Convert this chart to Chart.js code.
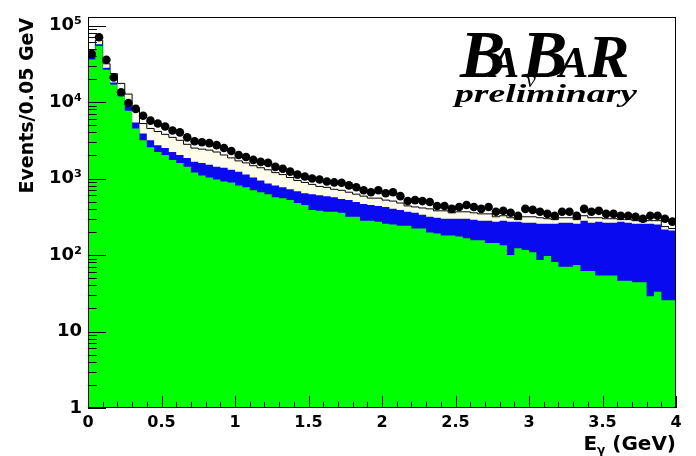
<!DOCTYPE html>
<html><head><meta charset="utf-8">
<script src="https://cdn.jsdelivr.net/npm/chart.js@4.4.1/dist/chart.umd.min.js"></script>
<style>html,body{margin:0;padding:0;background:#fff;}#wrap{width:696px;height:456px;}</style>
</head><body><div id="wrap"><canvas id="c" width="696" height="456"></canvas></div>
<script>
// ---- data, 80 bins of 0.05 GeV from 0 to 4 GeV ----
const binWidth = 0.05;
const nBins = 80;
const binLow = Array.from({length: nBins}, (_, i) => +(i * binWidth).toFixed(2));
const xTickLabels = ['0','0.5','1','1.5','2','2.5','3','3.5','4'];
const yTickLabels = ['1','10','10\u00b2','10\u00b3','10\u2074','10\u2075'];
const yTitle = 'Events/0.05 GeV';

// data points (black dots)
const dataCounts = [42500,70200,35600,20900,13400,9700,8130,6620,5710,5230,
  4780,4250,4010,3450,3070,2980,2900,2730,2500,2290,
  2030,1910,1750,1650,1600,1420,1340,1230,1125,1060,
  1000,970,915,889,880,813,767,701,662,701,
  643,662,588,507,522,507,492,438,438,401,
  425,451,425,401,425,367,378,356,326,401,
  389,367,345,326,367,367,326,401,367,378,
  345,345,326,326,316,298,326,326,298,273];

// cumulative stack tops
const greenTop = [36000,53800,26500,17000,11900,7670,4510,3160,2570,2220,
  2030,1750,1600,1420,1194,1092,1030,970,915,889,
  813,767,701,662,624,571,554,522,478,451,
  389,378,367,367,356,316,316,281,281,273,
  257,250,242,242,222,222,197,191,180,180,
  175,165,156,156,143,143,134,100,123,116,
  109,86,97,81,70,70,74,62,62,54,
  54,54,46,46,44,44,29,33,25.7,25.7];
const blueTop = [40000,57000,28100,18000,12700,8890,5380,3890,3160,2730,
  2500,2220,2030,1860,1650,1600,1510,1425,1383,1300,
  1230,1125,1030,943,863,813,767,723,681,643,
  624,606,588,571,538,522,492,464,451,438,
  425,401,389,367,356,336,316,307,298,298,
  298,298,290,281,281,273,281,273,273,265,
  265,257,257,257,265,265,257,281,265,273,
  265,265,273,265,257,257,257,250,215,209];
const totalMC = [47800,64200,31600,23500,17500,12700,8130,5230,4510,4120,
  3780,3450,3160,2800,2500,2420,2350,2220,2030,1860,
  1700,1600,1470,1383,1300,1194,1125,1030,943,889,
  838,789,767,723,701,662,624,588,554,554,
  522,507,478,438,425,412,401,378,378,356,
  367,367,356,345,345,316,326,307,290,316,
  316,307,298,290,307,307,290,326,307,307,
  298,298,290,290,281,273,281,281,235,222];

function stepPoints(vals) {
  const pts = vals.map((v, i) => ({x: binLow[i], y: v}));
  pts.push({x: binLow[nBins - 1] + binWidth, y: vals[nBins - 1]});
  return pts;
}
const dotPoints = dataCounts.map((v, i) => ({x: binLow[i] + binWidth / 2, y: v}));

const frameAndTicks = {
  id: 'frameAndTicks',
  afterDatasetsDraw(chart) {
    const {ctx, chartArea: a, scales: {x, y}} = chart;
    ctx.save();
    ctx.strokeStyle = '#000';
    ctx.lineWidth = 1;
    ctx.beginPath();
    for (let k = 0; k <= 40; k++) {
      const px = Math.round(x.getPixelForValue(k / 10)) + 0.5;
      const len = (k % 5 === 0) ? 12 : 6;
      ctx.moveTo(px, a.bottom); ctx.lineTo(px, a.bottom - len);
    }
    for (let e = 0; e <= 5; e++) {
      for (let m = 1; m <= 9; m++) {
        const v = m * Math.pow(10, e);
        if (v > y.max) continue;
        const py = Math.round(y.getPixelForValue(v)) + 0.5;
        const len = m === 1 ? 18 : 9;
        ctx.moveTo(a.left, py); ctx.lineTo(a.left + len, py);
      }
    }
    ctx.stroke();
    ctx.strokeRect(Math.round(a.left) + 0.5, Math.round(a.top) + 0.5,
                   Math.round(a.right - a.left) - 1, Math.round(a.bottom - a.top) - 1);
    ctx.restore();
  },
  afterDraw(chart) {
    const {ctx, chartArea: a} = chart;
    ctx.save();
    ctx.fillStyle = '#000';
    // y-axis title
    ctx.save();
    ctx.font = 'bold 19px "DejaVu Sans"';
    ctx.textAlign = 'right';
    ctx.textBaseline = 'middle';
    ctx.translate(28, a.top + 1);
    ctx.rotate(-Math.PI / 2);
    ctx.fillText(yTitle, 0, 0);
    ctx.restore();
    // x-axis title  E_gamma (GeV)
    ctx.textBaseline = 'alphabetic';
    const fBig = 'bold 20px "DejaVu Sans"';
    const fSub = 'bold 12px "DejaVu Sans"';
    ctx.font = fBig; const wE = ctx.measureText('E').width; const wG = ctx.measureText(' (GeV)').width;
    ctx.font = fSub; const wS = ctx.measureText('\u03b3').width;
    let xs = a.right - (wE + wS + wG);
    const base = 450;
    ctx.font = fBig; ctx.fillText('E', xs, base); xs += wE;
    ctx.font = fSub; ctx.fillText('\u03b3', xs, base + 4); xs += wS;
    ctx.font = fBig; ctx.fillText(' (GeV)', xs, base);
    // BaBar logo
    const serif = '"Liberation Serif", "DejaVu Serif", serif';
    ctx.font = 'italic bold 68px ' + serif; ctx.fillText('B', 460, 77);
    ctx.font = 'italic bold 44px ' + serif; ctx.fillText('A', 490, 77);
    ctx.font = 'italic bold 68px ' + serif; ctx.fillText('B', 522, 77);
    ctx.font = 'italic bold 44px ' + serif; ctx.fillText('A', 559, 77);
    ctx.font = 'italic bold 62px ' + serif; ctx.fillText('R', 588, 77);
    ctx.font = 'italic 22px ' + serif; ctx.fillText('\u03bd', 526, 87);
    ctx.font = 'italic bold 26px ' + serif;
    const wp = ctx.measureText('preliminary').width;
    ctx.translate(455, 102);
    ctx.scale(182 / wp, 1);
    ctx.fillText('preliminary', 0, 0);
    ctx.restore();
  }
};

new Chart(document.getElementById('c'), {
  type: 'line',
  data: {
    datasets: [
      {label: 'Data', data: dotPoints, showLine: false, pointRadius: 4.3,
       pointBackgroundColor: '#000', pointBorderColor: '#000', pointBorderWidth: 0},
      {label: 'green', data: stepPoints(greenTop), stepped: true, fill: 'start',
       backgroundColor: '#00ff00', borderWidth: 0, borderColor: 'rgba(0,0,0,0)', pointRadius: 0},
      {label: 'blue', data: stepPoints(blueTop), stepped: true, fill: 'start',
       backgroundColor: '#0a0af0', borderWidth: 0, borderColor: 'rgba(0,0,0,0)', pointRadius: 0},
      {label: 'total', data: stepPoints(totalMC), stepped: true, fill: 'start',
       backgroundColor: '#fffcea', borderWidth: 1, borderColor: '#000', pointRadius: 0}
    ]
  },
  options: {
    responsive: false, animation: false, devicePixelRatio: 1,
    events: [],
    layout: {padding: {top: 9, right: 20, left: 0, bottom: 0}},
    plugins: {legend: {display: false}, tooltip: {enabled: false}},
    scales: {
      x: {
        type: 'linear', min: 0, max: 4,
        afterFit: s => { s.height = 48; },
        grid: {display: false, drawTicks: false},
        border: {display: false},
        ticks: {stepSize: 0.5, autoSkip: false, maxRotation: 0, padding: 5, color: '#000',
                font: {family: 'DejaVu Sans', weight: 'bold', size: 16},
                callback: v => xTickLabels[Math.round(v / 0.5)] ?? ''}
      },
      y: {
        type: 'logarithmic', min: 1, max: 1.3e5,
        afterFit: s => { s.width = 88; },
        grid: {display: false, drawTicks: false},
        border: {display: false},
        ticks: {autoSkip: false, padding: 6, color: '#000',
                font: {family: 'DejaVu Sans', weight: 'bold', size: 18},
                callback: v => {
                  const l = Math.log10(v); const e = Math.round(l);
                  return Math.abs(l - e) < 1e-9 ? (yTickLabels[e] ?? '') : '';
                }},
        title: {display: false}
      }
    }
  },
  plugins: [frameAndTicks]
});
</script></body></html>
